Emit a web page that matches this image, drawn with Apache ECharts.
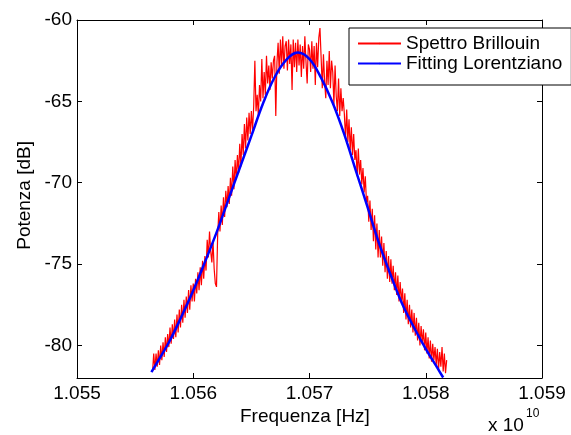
<!DOCTYPE html>
<html>
<head>
<meta charset="utf-8">
<script src="https://cdn.jsdelivr.net/npm/echarts@6/dist/echarts.min.js"></script>
<style>html,body{margin:0;padding:0;background:#fff}#c{width:571px;height:435px}</style>
</head>
<body>
<div id="c"></div>
<script>
// x in units of 1e10 Hz
var xTicks = [1.055, 1.056, 1.057, 1.058, 1.059];
var yTicks = [-80, -75, -70, -65, -60];

var fitFreq = [1.05564, 1.0557, 1.0558, 1.0559, 1.0560, 1.0561, 1.0562, 1.0563, 1.0564, 1.0565, 1.0566, 1.0567, 1.0568, 1.0569, 1.0570, 1.0571, 1.0572, 1.0573, 1.0574, 1.0575, 1.0576, 1.0577, 1.0578, 1.0579, 1.0580, 1.0581, 1.05815];
var fitDb = [-81.64, -80.92, -79.68, -78.20, -76.62, -74.88, -73.07, -71.08, -69.10, -67.12, -65.13, -63.52, -62.45, -62.0, -62.4, -63.56, -65.1, -67.04, -69.29, -71.51, -73.76, -75.70, -77.49, -78.91, -80.21, -81.38, -81.97];

var specStart = 1.05565;
var specStep = 0.00001;
var specDb = [
 -81.6,-80.5,-81.5,-80.5,-81.3,
 -80.3,-81.2,-80.0,-80.9,-79.8,-80.7,-79.5,-80.4,-79.3,-80.1,
 -78.9,-79.9,-78.7,-79.6,-78.4,-79.5,-78.1,-79.2,-77.8,-78.9,
 -77.5,-78.6,-77.2,-78.3,-77.0,-78.0,-76.6,-77.8,-76.3,-77.3,
 -76.2,-77.3,-75.9,-76.8,-75.5,-76.6,-75.2,-76.3,-74.8,-75.9,
 -74.5,-75.4,-73.5,-74.6,-73.0,-74.2,-74.9,-73.6,-75.3,-76.2,
 -76.4,-73.2,-71.8,-73.0,-71.4,-72.6,-70.9,-72.1,-70.5,-71.5,
 -70.2,-71.3,-69.7,-70.8,-69.0,-70.4,-68.6,-69.8,-68.3,-69.4,
 -67.6,-69.0,-67.0,-68.3,-66.4,-67.9,-66.0,-67.4,-65.7,-67.0,
 -65.6,-66.8,-65.3,-62.5,-65.6,-64.6,-65.9,-64.0,-65.0,-62.4,
 -64.8,-63.2,-64.6,-62.2,-63.9,-62.8,-64.3,-62.6,-63.6,-62.5,
 -62.2,-65.9,-62.6,-61.4,-63.3,-61.2,-62.8,-61.0,-63.0,-61.6,
 -61.3,-63.1,-61.2,-62.7,-61.5,-64.3,-61.2,-62.9,-61.4,-63.2,
 -61.2,-62.8,-61.5,-63.5,-61.6,-63.0,-61.0,-62.6,-63.9,-61.5,
 -61.8,-63.2,-61.3,-63.0,-61.6,-64.0,-61.4,-62.9,-61.1,-60.5,
 -62.3,-64.2,-62.1,-63.8,-64.8,-62.5,-64.0,-61.9,-64.2,-62.5,
 -63.2,-65.2,-62.8,-64.7,-65.6,-63.6,-65.9,-64.2,-65.6,-64.8,
 -65.8,-67.3,-65.5,-67.5,-66.1,-68.0,-66.6,-68.3,-67.0,-68.6,
 -68.0,-69.6,-67.9,-69.5,-68.6,-70.1,-69.1,-70.6,-69.6,-71.2,
 -70.8,-72.4,-71.1,-72.9,-71.6,-73.6,-72.0,-74.1,-72.5,-74.6,
 -72.9,-74.6,-73.3,-75.1,-73.7,-75.5,-74.2,-75.9,-74.5,-76.1,
 -74.7,-76.2,-75.1,-76.6,-75.5,-76.9,-75.7,-77.3,-76.1,-77.4,
 -76.5,-78.0,-76.8,-78.4,-77.2,-78.7,-77.5,-78.9,-77.8,-79.2,
 -78.0,-79.4,-78.3,-79.7,-78.6,-80.0,-78.8,-79.9,-79.0,-80.3,
 -79.2,-80.5,-79.5,-80.8,-79.7,-81.0,-79.9,-80.9,-80.1,-81.2,
 -80.2,-81.5,-80.4,-81.3,-80.1,-81.6,-80.5,-81.7,-80.9
];

var seriesNames = ['Spettro Brillouin', 'Fitting Lorentziano'];

var specData = specDb.map(function (v, i) { return [specStart + i * specStep, v]; });
var fitData = fitFreq.map(function (f, i) { return [f, fitDb[i]]; });

var FONT = 'Liberation Sans, Arial, sans-serif';
var FS = 19;
var chart = echarts.init(document.getElementById('c'), null, {renderer: 'canvas'});

function xAx(pos, showLabel) {
  return {
    type: 'value', position: pos, min: 1.055, max: 1.059,
    axisLine: {show: true, onZero: false, lineStyle: {color: '#000', width: 1}},
    axisTick: {show: true, inside: true, length: 5, lineStyle: {color: '#000'}, customValues: xTicks},
    axisLabel: {show: showLabel, customValues: xTicks, color: '#000', fontFamily: FONT, fontSize: FS, margin: 6,
      formatter: function (v) { return v.toFixed(3); }},
    splitLine: {show: false}
  };
}
function yAx(pos, showLabel) {
  return {
    type: 'value', position: pos, min: -82, max: -60,
    axisLine: {show: true, onZero: false, lineStyle: {color: '#000', width: 1}},
    axisTick: {show: true, inside: true, length: 5, lineStyle: {color: '#000'}, customValues: yTicks},
    axisLabel: {show: showLabel, customValues: yTicks, color: '#000', fontFamily: FONT, fontSize: FS, margin: 5},
    splitLine: {show: false}
  };
}

chart.setOption({
  animation: false,
  backgroundColor: '#fff',
  grid: {left: 77, right: 29, top: 20, bottom: 57},
  xAxis: [xAx('bottom', true), xAx('top', false)],
  yAxis: [yAx('left', true), yAx('right', false)],
  legend: {
    orient: 'vertical', left: 349, top: 28,
    data: seriesNames,
    itemWidth: 43, itemHeight: 2, itemGap: 1,
    backgroundColor: '#fff', borderColor: '#000', borderWidth: 1,
    padding: [6, 9, 12, 8],
    textStyle: {color: '#000', fontFamily: FONT, fontSize: FS, lineHeight: 19}
  },
  graphic: [
    {type: 'text', left: 240, top: 407, style: {text: 'Frequenza [Hz]', fill: '#000', font: FS + 'px ' + FONT}},
    {type: 'text', left: 488, top: 416, style: {text: 'x 10', fill: '#000', font: FS + 'px ' + FONT}},
    {type: 'text', left: 526, top: 408, style: {text: '10', fill: '#000', font: '12px ' + FONT}},
    {type: 'text', left: 15, top: 141, rotation: Math.PI / 2, style: {text: 'Potenza [dB]', fill: '#000', font: FS + 'px ' + FONT}}
  ],
  series: [
    {name: seriesNames[0], type: 'line', data: specData, symbol: 'none', lineStyle: {color: '#ff0000', width: 1.2}, itemStyle: {color: '#ff0000'}},
    {name: seriesNames[1], type: 'line', data: fitData, symbol: 'none', smooth: 0.4, lineStyle: {color: '#0000ff', width: 2.5}, itemStyle: {color: '#0000ff'}}
  ]
});
</script>
</body>
</html>
